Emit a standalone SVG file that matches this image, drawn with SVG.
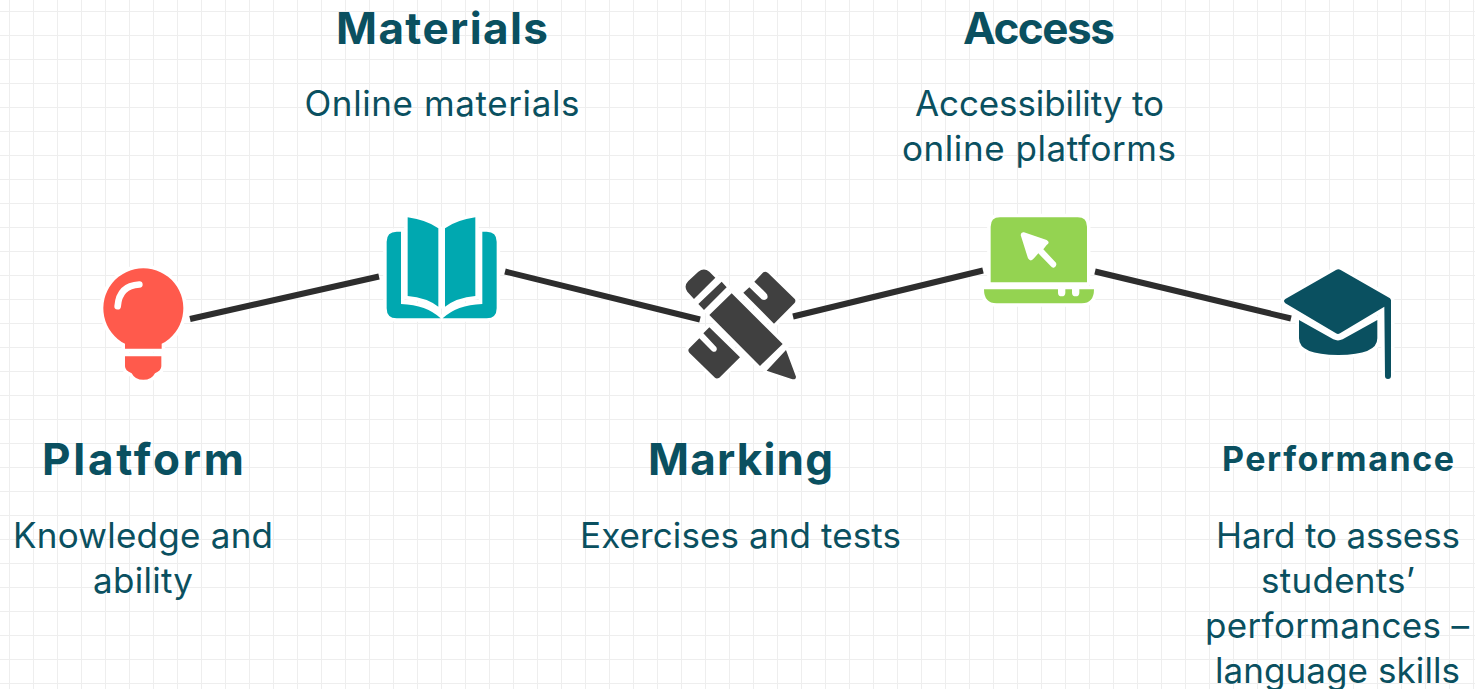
<svg xmlns="http://www.w3.org/2000/svg" width="1475" height="689" viewBox="0 0 1475 689">
<style>
.t{font-family:"Inter","Lato","Liberation Sans",sans-serif;font-weight:700;font-size:44px;fill:#0a5060;text-anchor:middle;font-variant-ligatures:none}
.b{font-family:"Inter","Lato","Liberation Sans",sans-serif;font-size:35px;fill:#0a5060;text-anchor:middle;font-variant-ligatures:none}
.i{stroke:#fff;stroke-width:21;stroke-linejoin:round;paint-order:stroke}
.c{stroke:#2d2d2d;stroke-width:6;fill:none}
</style>
<defs>
<pattern id="grid" width="24" height="24" patternUnits="userSpaceOnUse" x="-14" y="-12">
<path d="M24 0V24M0 24H24" fill="none" stroke="#eeeeee" stroke-width="2"/>
</pattern>
</defs>
<rect width="1475" height="689" fill="#fff"/>
<rect width="1475" height="689" fill="url(#grid)"/>
<g id="connectors">
<path class="c" d="M190 319L379 276.500"/>
<path class="c" d="M505 271.500L700 319.500"/>
<path class="c" d="M793 316.500L983 270.500"/>
<path class="c" d="M1095 271.500L1291 318.500"/>
</g>
<g id="platform">
<g transform="translate(80 200.500) scale(.33333)">
<path class="i" fill="#ff5a4c" d="M135 430A120 120 0 1 1 245 430V445H135ZM135 467H244V497Q244 510 225 518Q215 538 190 538Q165 538 155 518Q135 510 135 497Z"/>
<path d="M113 317Q118 255 178 252" fill="none" stroke="#fff" stroke-width="20" stroke-linecap="round"/>
</g>
<text class="t" x="143" y="475" textLength="202">Platform</text>
<text class="b" x="143" y="548" textLength="260">Knowledge and</text>
<text class="b" x="143" y="593" textLength="100">ability</text>
</g>
<g id="materials">
<g transform="translate(80 200) scale(.33333)">
<path class="i" fill="#00a8b0" d="M963 95H950Q920 95 920 125V325Q920 355 950 355H1082Q1040 315 963 312ZM1207 95H1220Q1250 95 1250 125V325Q1250 355 1220 355H1088Q1130 315 1207 312ZM983 52Q1040 60 1075 85V320Q1040 293 983 288ZM1186 52Q1130 60 1095 85V320Q1130 293 1186 288Z"/>
</g>
<text class="t" x="442" y="44" textLength="212">Materials</text>
<text class="b" x="442" y="116" textLength="275">Online materials</text>
</g>
<g id="marking">
<g transform="translate(660 200) scale(.33333)">
<path class="i" fill="#404040" d="M102 297L166 233L148 215Q132 202 115 215L85 243Q70 258 82 275ZM115 312L185 245L200 262L132 330ZM148 345L215 280L368 432L300 498ZM378 450L408 530Q408 540 395 537L320 512ZM250 278L268 262L305 298Q315 303 322 295Q325 285 317 278L283 245L310 217Q318 212 325 220L405 298Q408 305 403 310L342 371ZM148 382L240 472L178 533Q170 538 165 533L88 458Q82 450 88 445L118 415L155 452Q165 460 170 450Q172 442 165 437L130 400Z"/>
</g>
<text class="t" x="740.500" y="475" textLength="185">Marking</text>
<text class="b" x="740.500" y="548" textLength="321">Exercises and tests</text>
</g>
<g id="access">
<g transform="translate(660 200) scale(.33333)">
<path class="i" fill="#94d351" d="M992 247V80Q992 52 1020 52H1253Q1281 52 1281 80V247ZM972 268H1194V278A11 11 0 0 0 1216 278V268H1236V278A11 11 0 0 0 1258 278V268H1302Q1302 310 1265 310H1010Q972 310 972 268Z"/>
<path fill="#fff" d="M1082 105Q1083 95 1092 97L1160 120Q1172 128 1160 135L1150 148L1188 188Q1192 198 1182 203Q1176 204 1172 198L1135 160L1122 175Q1112 188 1104 175Z"/>
</g>
<text class="t" x="1039" y="44" textLength="152">Access</text>
<text class="b" x="1039.500" y="116" textLength="249">Accessibility to</text>
<text class="b" x="1039" y="161" textLength="274">online platforms</text>
</g>
<g id="performance">
<g transform="translate(1260 250) scale(.33333)">
<path class="i" fill="#0a5060" d="M228 60Q235 55 242 60L390 145L393 150L373 170L240 250Q234 254 228 250L76 160Q68 152 76 147ZM373 170L393 150V378A9 9 0 0 1 375 378ZM117 210L220 268Q234 275 248 268L352 210V265Q352 315 235 315Q117 315 117 265Z"/>
</g>
<text class="t" x="1338" y="471" textLength="232" style="font-size:34px">Performance</text>
<text class="b" x="1338" y="548" textLength="244">Hard to assess</text>
<text class="b" x="1338" y="593" textLength="154">students’</text>
<text class="b" x="1337" y="638" textLength="264">performances –</text>
<text class="b" x="1337.500" y="683" textLength="245">language skills</text>
</g>
</svg>
